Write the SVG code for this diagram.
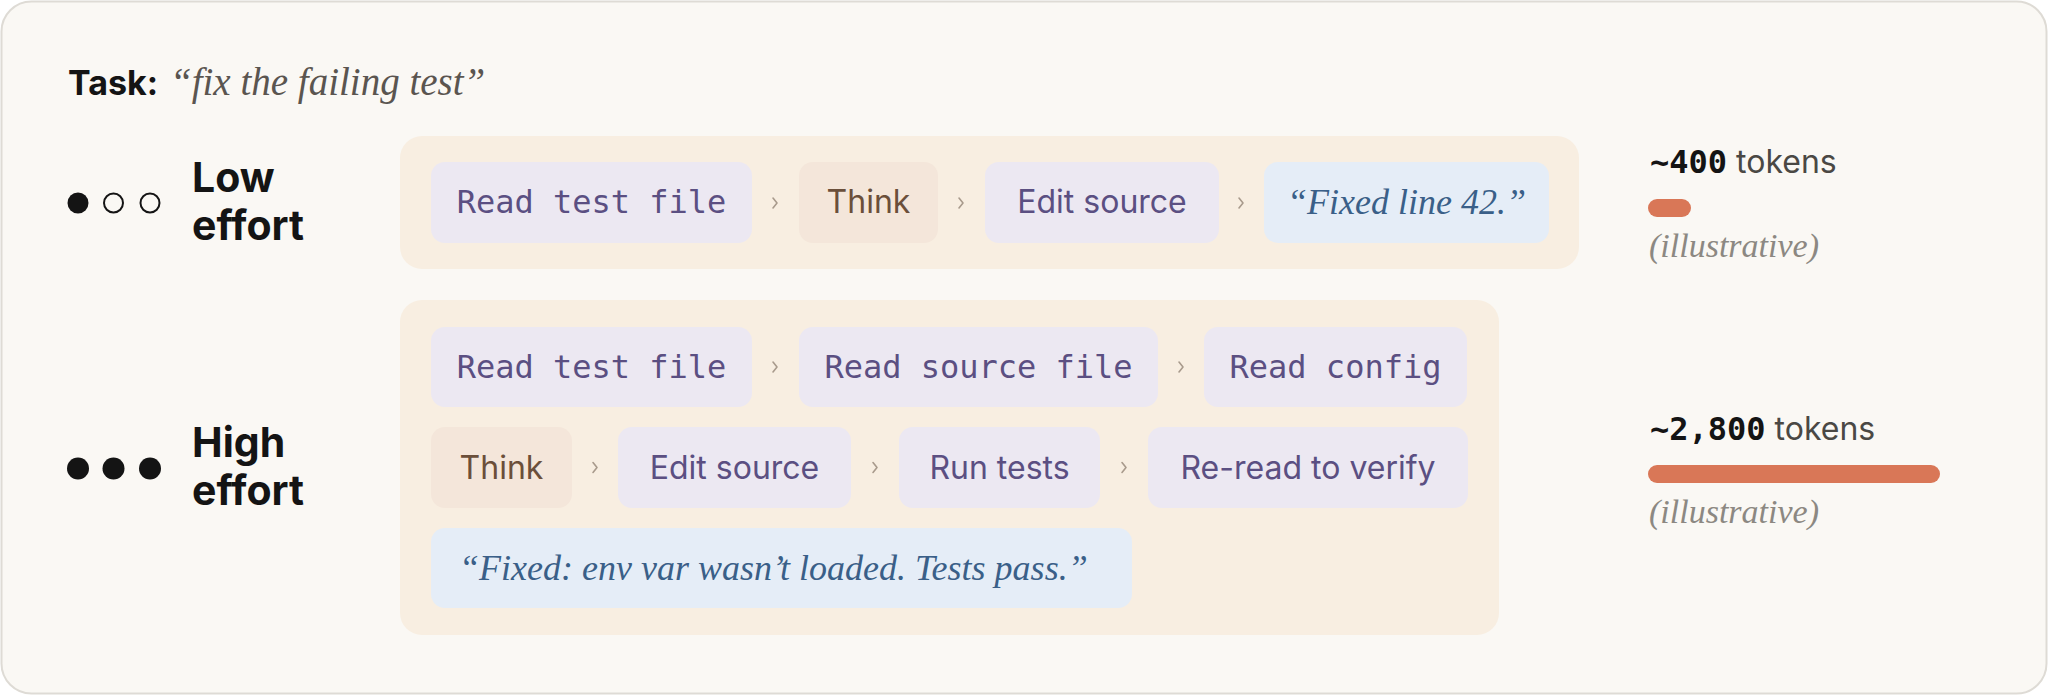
<svg xmlns="http://www.w3.org/2000/svg" width="2048" height="695" viewBox="0 0 2048 695">
<defs>
<style>
.sans{font-family:Inter,"Liberation Sans",sans-serif}
.mono{font-family:"DejaVu Sans Mono","Liberation Mono",monospace}
.serif{font-family:"Liberation Serif","DejaVu Serif",serif;font-style:italic}
.cont{fill:#f8eee1}
.chip{fill:#ece8f2}
.think{fill:#f4e6da}
.ans{fill:#e5edf7}
.ct{font-size:32px;fill:#5b4f82;text-anchor:middle}
.tt{font-size:32px;fill:#6b4f3a;text-anchor:middle}
.at{font-size:36px;fill:#3a5f88}
.lvl{font-size:41px;font-weight:700;fill:#141414}
.tok{font-size:32px;fill:#4a4844}
.num{font-size:32px;font-weight:700;fill:#141414}
.bar{fill:#d97757}
.ill{font-size:34px;fill:#8c8882}
.chev{fill:none;stroke:#a89a8c;stroke-width:1.6;stroke-linecap:round;stroke-linejoin:round}
</style>
</defs>
<rect x="1.5" y="1.5" width="2045" height="692" rx="30" fill="#faf8f4" stroke="#dedbd5" stroke-width="2"/>
<g id="task">
<text x="68" y="95" class="sans" font-size="34" font-weight="700" fill="#141414">Task:</text>
<text x="170" y="95" class="serif" font-size="39" fill="#5a5550">“fix the failing test”</text>
</g>
<g id="low-label">
<circle cx="78" cy="203" r="10.5" fill="#141414"/>
<circle cx="113.5" cy="203" r="9.5" fill="none" stroke="#141414" stroke-width="2"/>
<circle cx="150" cy="203" r="9.5" fill="none" stroke="#141414" stroke-width="2"/>
<text x="192" y="192" class="sans lvl">Low</text>
<text x="192" y="240" class="sans lvl">effort</text>
</g>
<g id="low-container"><rect x="400" y="136" width="1179" height="133" rx="22" class="cont"/></g>
<g id="low-read-test"><rect x="431" y="162" width="321" height="81" rx="14" class="chip"/><text x="591.5" y="213" class="mono ct">Read test file</text></g>
<g id="low-think"><rect x="799" y="162" width="139" height="81" rx="14" class="think"/><text x="868.5" y="213" class="sans tt">Think</text></g>
<g id="low-edit"><rect x="985" y="162" width="234" height="81" rx="14" class="chip"/><text x="1102" y="213" class="sans ct">Edit source</text></g>
<g id="low-answer"><rect x="1264" y="162" width="285" height="81" rx="14" class="ans"/><text x="1406.5" y="214" class="serif at" text-anchor="middle">“Fixed line 42.”</text></g>
<g id="low-tokens">
<text x="1650" y="173"><tspan class="mono num">~400</tspan><tspan class="sans tok" dx="9">tokens</tspan></text>
<rect x="1648" y="199" width="43" height="18" rx="9" class="bar"/>
<text x="1649" y="257" class="serif ill">(illustrative)</text>
</g>
<g id="high-label">
<circle cx="78" cy="468.5" r="11" fill="#141414"/>
<circle cx="113.5" cy="468.5" r="11" fill="#141414"/>
<circle cx="150" cy="468.5" r="11" fill="#141414"/>
<text x="192" y="457" class="sans lvl">High</text>
<text x="192" y="505" class="sans lvl">effort</text>
</g>
<g id="high-container"><rect x="400" y="300" width="1099" height="335" rx="22" class="cont"/></g>
<g id="high-read-test"><rect x="431" y="327" width="321" height="80" rx="14" class="chip"/><text x="591.5" y="378" class="mono ct">Read test file</text></g>
<g id="high-read-source"><rect x="799" y="327" width="359" height="80" rx="14" class="chip"/><text x="978.5" y="378" class="mono ct">Read source file</text></g>
<g id="high-read-config"><rect x="1204" y="327" width="263" height="80" rx="14" class="chip"/><text x="1335.5" y="378" class="mono ct">Read config</text></g>
<g id="high-think"><rect x="431" y="427" width="141" height="81" rx="14" class="think"/><text x="501.5" y="479" class="sans tt">Think</text></g>
<g id="high-edit"><rect x="618" y="427" width="233" height="81" rx="14" class="chip"/><text x="734.5" y="479" class="sans ct">Edit source</text></g>
<g id="high-run"><rect x="899" y="427" width="201" height="81" rx="14" class="chip"/><text x="999.5" y="479" class="sans ct">Run tests</text></g>
<g id="high-reread"><rect x="1148" y="427" width="320" height="81" rx="14" class="chip"/><text x="1308" y="479" class="sans ct">Re-read to verify</text></g>
<g id="high-answer"><rect x="431" y="528" width="701" height="80" rx="14" class="ans"/><text x="459" y="580" class="serif at" font-size="38">“Fixed: env var wasn’t loaded. Tests pass.”</text></g>
<g id="high-tokens">
<text x="1650" y="440"><tspan class="mono num">~2,800</tspan><tspan class="sans tok" dx="9">tokens</tspan></text>
<rect x="1648" y="465" width="292" height="18" rx="9" class="bar"/>
<text x="1649" y="523" class="serif ill">(illustrative)</text>
</g>
<g id="connectors">
<path class="chev" d="M773 198 L777 203 L773 208"/>
<path class="chev" d="M959 198 L963 203 L959 208"/>
<path class="chev" d="M1239 198 L1243 203 L1239 208"/>
<path class="chev" d="M773 362 L777 367 L773 372"/>
<path class="chev" d="M1179 362 L1183 367 L1179 372"/>
<path class="chev" d="M593 462.5 L597 467.5 L593 472.5"/>
<path class="chev" d="M873 462.5 L877 467.5 L873 472.5"/>
<path class="chev" d="M1122 462.5 L1126 467.5 L1122 472.5"/>
</g>
</svg>
